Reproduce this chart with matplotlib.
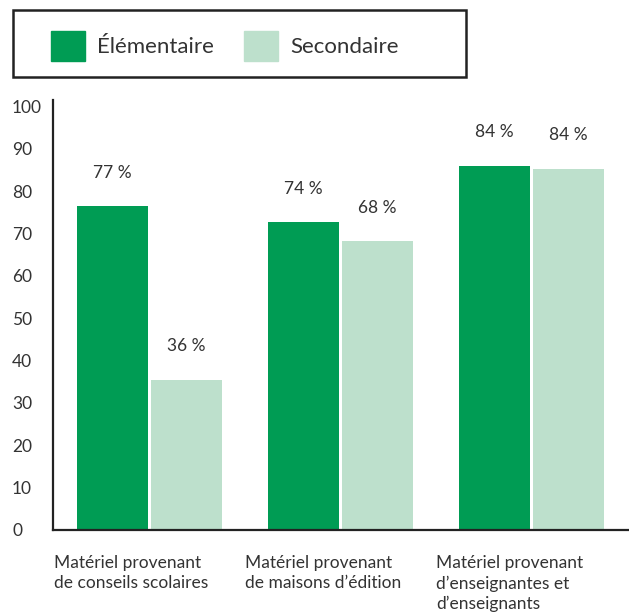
import matplotlib.pyplot as plt
import numpy as np
from matplotlib.patches import Rectangle

plt.rcParams['font.family'] = ['Lato', 'DejaVu Sans']

# data
categories = ["Matériel provenant\nde conseils scolaires",
              "Matériel provenant\nde maisons d\u2019édition",
              "Matériel provenant\nd\u2019enseignantes et\nd\u2019enseignants"]
series_names = ["Élémentaire", "Secondaire"]
elementaire = [76.5, 72.7, 86.0]
secondaire = [35.5, 68.2, 85.3]
elem_labels = ["77 %", "74 %", "84 %"]
sec_labels = ["36 %", "68 %", "84 %"]
yticks = [0, 10, 20, 30, 40, 50, 60, 70, 80, 90, 100]

dark = '#009c54'
light = '#bde0cc'
txt = '#333333'

fig = plt.figure(figsize=(6.29, 6.15), dpi=100)
ax = fig.add_axes([53/629, 1 - 530/615, 1 - 53/629, 430/615])

x = np.arange(len(categories))
w = 0.372
gap = 0.016
b1 = ax.bar(x - w/2 - gap/2, elementaire, w, color=dark, label=series_names[0])
b2 = ax.bar(x + w/2 + gap/2, secondaire, w, color=light, label=series_names[1])

for bars, labs in [(b1, elem_labels), (b2, sec_labels)]:
    for bar, lab in zip(bars, labs):
        ax.annotate(lab, xy=(bar.get_x() + bar.get_width()/2, bar.get_height()),
                    xytext=(0, 24), textcoords='offset points',
                    ha='center', va='center', fontsize=12.5, color=txt)

ax.set_xlim(-0.505, 2.51)
ax.set_ylim(0, 101.5)
ax.set_yticks(yticks)
ax.set_yticklabels([str(t) for t in yticks], fontsize=12.5, color=txt, ha='left')
ax.tick_params(axis='y', length=0, pad=29.5)
ax.set_xticks([])
for s in ['top', 'right']:
    ax.spines[s].set_visible(False)
for s in ['left', 'bottom']:
    ax.spines[s].set_linewidth(1.6)
    ax.spines[s].set_color('#222222')

# category labels under each group, left aligned
for i, cat in enumerate(categories):
    ax.text(i - 0.5, -6.0, cat, ha='left', va='top', fontsize=12.5, color=txt,
            linespacing=1.3, transform=ax.transData, clip_on=False)

# legend box drawn at top
fig.patches.append(Rectangle((13/629, 1 - 77/615), 453/629, 67/615,
                             transform=fig.transFigure, fill=False,
                             edgecolor='#222222', linewidth=1.8))
fig.patches.append(Rectangle((51/629, 1 - 61/615), 34/629, 30/615,
                             transform=fig.transFigure, color=dark))
fig.patches.append(Rectangle((244/629, 1 - 61/615), 34/629, 30/615,
                             transform=fig.transFigure, color=light))
fig.text(97/629, 1 - 47/615, series_names[0], ha='left', va='center',
         fontsize=16, color=txt)
fig.text(290/629, 1 - 47/615, series_names[1], ha='left', va='center',
         fontsize=16, color=txt)

fig.savefig('out.png', dpi=100)
